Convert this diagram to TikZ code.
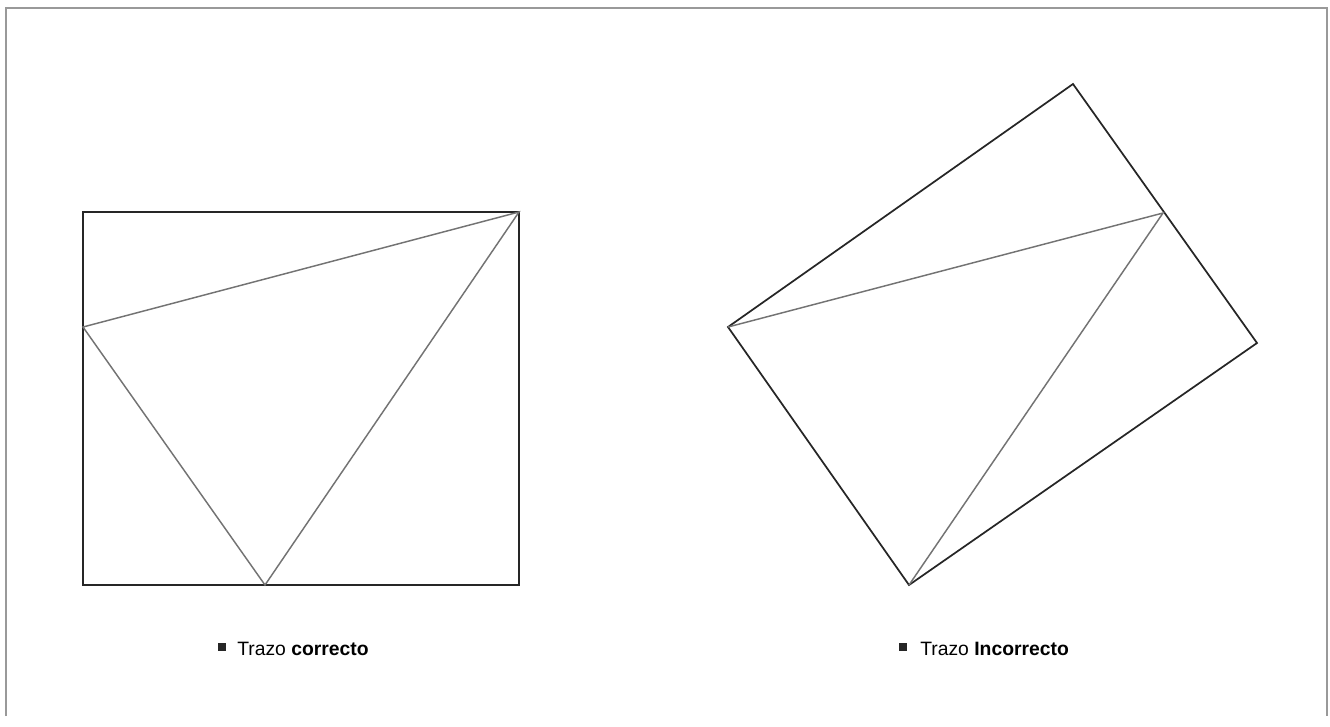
\documentclass[tikz,border=0pt]{standalone}
\usepackage{fontspec}
\setmainfont{Liberation Sans}
\begin{document}
\begin{tikzpicture}[x=0.75pt,y=-0.75pt,
  frame/.style={draw=black!40,line width=0.9pt},
  edge/.style={draw=black!85,line width=1.3pt,line join=miter},
  trace/.style={draw=black!55,line width=1.1pt},
  bullet/.style={fill=black!85,minimum size=6.5pt,inner sep=0pt},
  lab/.style={anchor=base west,inner sep=0pt,font=\fontsize{14.5}{17}\selectfont}]
\useasboundingbox (0,0) rectangle (1330,726);
\draw[frame] (6,716) -- (6,8) -- (1327,8) -- (1327,716);
% left figure
\coordinate (A1) at (83,212);
\coordinate (A2) at (519,212);
\coordinate (A3) at (519,585);
\coordinate (A4) at (83,585);
\coordinate (P1) at (83,327);
\coordinate (P2) at (265,585);
\draw[edge] (A1) -- (A2) -- (A3) -- (A4) -- cycle;
\draw[trace] (P1) -- (A2) -- (P2) -- cycle;
% right figure
\coordinate (BL) at (728,327);
\coordinate (BT) at (1073,84);
\coordinate (BR) at (1257,343);
\coordinate (BB) at (909,585);
\coordinate (Q) at (1163,213);
\draw[edge] (BL) -- (BT) -- (BR) -- (BB) -- cycle;
\draw[trace] (BL) -- (Q) -- (BB);
% labels
\node[bullet] (s1) at (222,647) {};
\node[lab] (t1) at (237,655) {Trazo \textbf{correcto}};
\node[bullet] (s2) at (903,647) {};
\node[lab] (t2) at (920,655) {Trazo \textbf{Incorrecto}};
\end{tikzpicture}
\end{document}
